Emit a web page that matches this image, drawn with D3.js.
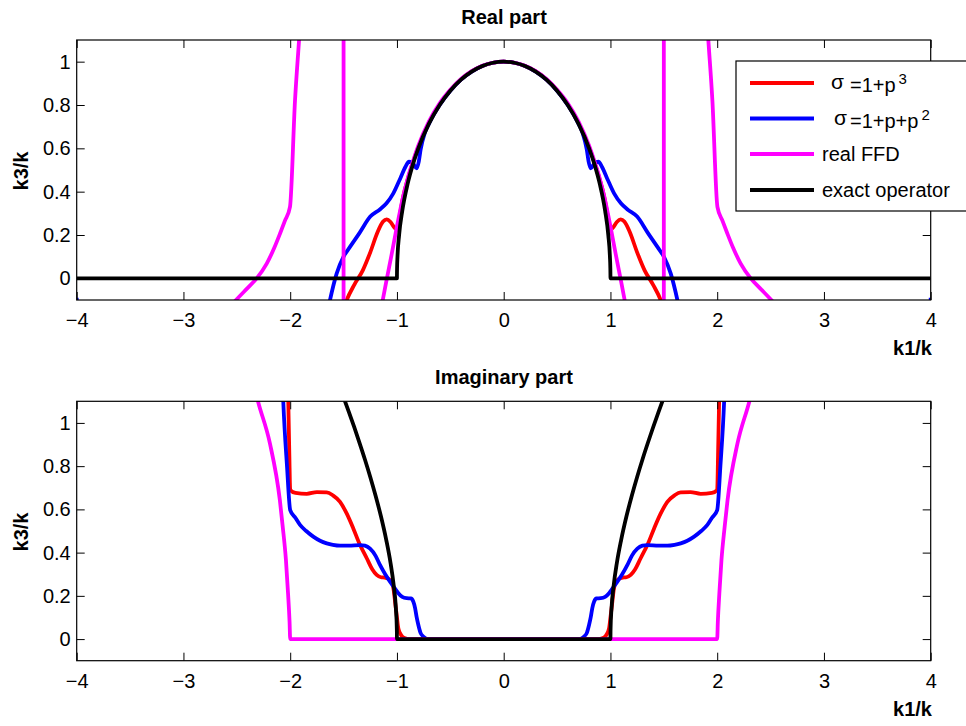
<!DOCTYPE html>
<html>
<head>
<meta charset="utf-8">
<title>Real and imaginary part</title>
<script src="https://cdn.jsdelivr.net/npm/d3@7"></script>
<style>
  body { margin: 0; background: #fff; }
  text { font-family: "Liberation Sans", Arial, Helvetica, sans-serif; fill: #000; }
  .title, .alabel { font-size: 20px; font-weight: bold; }
  .legtext { font-size: 20px; }
</style>
</head>
<body>
<script>
// tick values for both panels
var xTicks = [-4, -3, -2, -1, 0, 1, 2, 3, 4];
var yTicks = [0, 0.2, 0.4, 0.6, 0.8, 1];

// legend names (same order as the series are drawn)
var seriesNames = ["sigma3", "sigma2", "real FFD", "exact operator"];
var seriesColors = ["#ff0000", "#0000ff", "#ff00ff", "#000000"];

// ---- Real part, points as [k1/k, k3/k] ----
var realSigma3 = [
  [-1.62,-0.4],[-1.47,-0.1],[-1.40,-0.03],[-1.32,0.037],[-1.25,0.12],[-1.18,0.215],[-1.13,0.262],
  [-1.096,0.272],[-1.06,0.26],[-1.02,0.232],[-0.995,0.225],[-0.97,0.3],[-0.94,0.38],[-0.9,0.455],
  [-0.85,0.535],[-0.8,0.605],[-0.7,0.718],[-0.6,0.802],[-0.5,0.868],[-0.4,0.918],[-0.3,0.955],
  [-0.2,0.98],[-0.1,0.995],[0,1],
  [0.1,0.995],[0.2,0.98],[0.3,0.955],[0.4,0.918],[0.5,0.868],[0.6,0.802],[0.7,0.718],[0.8,0.605],
  [0.85,0.535],[0.9,0.455],[0.94,0.38],[0.97,0.3],[0.995,0.225],[1.02,0.232],[1.06,0.26],
  [1.096,0.272],[1.13,0.262],[1.18,0.215],[1.25,0.12],[1.32,0.037],[1.40,-0.03],[1.47,-0.1],[1.62,-0.4]
];
var realSigma2 = [
  [-4.0,-0.09],[-3.97,-0.5],[-1.75,-0.45],[-1.627,-0.1],[-1.565,0.022],[-1.5,0.1],[-1.44,0.145],
  [-1.35,0.21],[-1.25,0.285],[-1.16,0.318],[-1.1,0.345],[-1.034,0.392],[-0.97,0.46],[-0.92,0.515],
  [-0.887,0.538],[-0.85,0.53],[-0.815,0.508],[-0.795,0.54],[-0.778,0.595],[-0.74,0.67],[-0.7,0.714],
  [-0.6,0.8],[-0.5,0.866],[-0.4,0.917],[-0.3,0.954],[-0.2,0.98],[-0.1,0.995],[0,1],
  [0.1,0.995],[0.2,0.98],[0.3,0.954],[0.4,0.917],[0.5,0.866],[0.6,0.8],[0.7,0.714],[0.74,0.67],
  [0.778,0.595],[0.795,0.54],[0.815,0.508],[0.85,0.53],[0.887,0.538],[0.92,0.515],[0.97,0.46],
  [1.034,0.392],[1.1,0.345],[1.16,0.318],[1.25,0.285],[1.35,0.21],[1.44,0.145],[1.5,0.1],
  [1.565,0.022],[1.627,-0.1],[1.75,-0.45],[3.97,-0.5],[4.0,-0.09]
];
var realFFD = [
  [-2.7,-0.22],[-2.507,-0.1],[-2.4,-0.045],[-2.314,0.0],[-2.22,0.068],[-2.15,0.14],[-2.095,0.207],
  [-2.05,0.265],[-2.002,0.33],[-1.955,0.82],[-1.917,1.1],[-1.85,1.6],[-1.5001,8],[-1.4999,-8],
  [-1.3,-1.2],[-1.2,-0.29],[-1.133,-0.1],[-1.094,0.0],[-1.05,0.11],[-1.0,0.24],[-0.95,0.36],
  [-0.9,0.46],[-0.85,0.54],[-0.8,0.612],[-0.7,0.725],[-0.6,0.808],[-0.5,0.87],[-0.4,0.92],
  [-0.3,0.956],[-0.2,0.981],[-0.1,0.995],[0,1],
  [0.1,0.995],[0.2,0.981],[0.3,0.956],[0.4,0.92],[0.5,0.87],[0.6,0.808],[0.7,0.725],[0.8,0.612],
  [0.85,0.54],[0.9,0.46],[0.95,0.36],[1.0,0.24],[1.05,0.11],[1.094,0.0],[1.133,-0.1],[1.2,-0.29],
  [1.3,-1.2],[1.4999,-8],[1.5001,8],[1.85,1.6],[1.917,1.1],[1.955,0.82],[2.002,0.33],[2.05,0.265],
  [2.095,0.207],[2.15,0.14],[2.22,0.068],[2.314,0.0],[2.4,-0.045],[2.507,-0.1],[2.7,-0.22]
];
var realExact = [
  [-4,0],[-1.0,0],[-0.9999,0.0141],[-0.999,0.0447],[-0.995,0.0999],[-0.98,0.199],[-0.95,0.312],
  [-0.9,0.436],[-0.85,0.527],[-0.8,0.6],[-0.7,0.714],[-0.6,0.8],[-0.5,0.866],[-0.4,0.917],
  [-0.3,0.954],[-0.2,0.98],[-0.1,0.995],[0,1],
  [0.1,0.995],[0.2,0.98],[0.3,0.954],[0.4,0.917],[0.5,0.866],[0.6,0.8],[0.7,0.714],[0.8,0.6],
  [0.85,0.527],[0.9,0.436],[0.95,0.312],[0.98,0.199],[0.995,0.0999],[0.999,0.0447],[0.9999,0.0141],
  [1.0,0],[4,0]
];

// ---- Imaginary part ----
var imagSigma3 = [
  [-2.03,1.3],[-2.018,1.1],[-2.008,0.85],[-2.0,0.69],[-1.95,0.676],[-1.845,0.672],[-1.75,0.68],
  [-1.658,0.679],[-1.6,0.665],[-1.533,0.635],[-1.47,0.58],[-1.409,0.512],[-1.35,0.44],[-1.283,0.374],
  [-1.23,0.322],[-1.19,0.297],[-1.15,0.286],[-1.112,0.284],[-1.08,0.279],[-1.05,0.264],[-1.03,0.225],
  [-1.018,0.174],[-1.0,0.1],[-0.987,0.05],[-0.96,0.018],[-0.93,0.005],[-0.88,0],
  [0.88,0],[0.93,0.005],[0.96,0.018],[0.987,0.05],[1.0,0.1],[1.018,0.174],[1.03,0.225],[1.05,0.264],
  [1.08,0.279],[1.112,0.284],[1.15,0.286],[1.19,0.297],[1.23,0.322],[1.283,0.374],[1.35,0.44],
  [1.409,0.512],[1.47,0.58],[1.533,0.635],[1.6,0.665],[1.658,0.679],[1.75,0.68],[1.845,0.672],
  [1.95,0.676],[2.0,0.69],[2.008,0.85],[2.018,1.1],[2.03,1.3]
];
var imagSigma2 = [
  [-2.08,1.3],[-2.065,1.1],[-2.03,0.8],[-2.0,0.597],[-1.95,0.56],[-1.908,0.528],[-1.85,0.5],
  [-1.784,0.474],[-1.72,0.455],[-1.658,0.443],[-1.6,0.436],[-1.533,0.432],[-1.45,0.432],
  [-1.346,0.435],[-1.3,0.432],[-1.252,0.418],[-1.2,0.385],[-1.159,0.343],[-1.11,0.3],[-1.065,0.266],
  [-1.02,0.235],[-0.987,0.212],[-0.95,0.195],[-0.909,0.189],[-0.87,0.188],[-0.848,0.175],[-0.83,0.143],
  [-0.815,0.1],[-0.8,0.066],[-0.78,0.03],[-0.753,0.012],[-0.706,0],
  [0.706,0],[0.753,0.012],[0.78,0.03],[0.8,0.066],[0.815,0.1],[0.83,0.143],[0.848,0.175],[0.87,0.188],
  [0.909,0.189],[0.95,0.195],[0.987,0.212],[1.02,0.235],[1.065,0.266],[1.11,0.3],[1.159,0.343],
  [1.2,0.385],[1.252,0.418],[1.3,0.432],[1.346,0.435],[1.45,0.432],[1.533,0.432],[1.6,0.436],
  [1.658,0.443],[1.72,0.455],[1.784,0.474],[1.85,0.5],[1.908,0.528],[1.95,0.56],[2.0,0.597],
  [2.03,0.8],[2.065,1.1],[2.08,1.3]
];
var imagFFD = [
  [-2.4,1.3],[-2.3,1.097],[-2.19,0.905],[-2.097,0.643],[-2.07,0.52],[-2.04,0.366],[-2.02,0.21],
  [-2.006,0.08],[-2.0,0],
  [2.0,0],[2.006,0.08],[2.02,0.21],[2.04,0.366],[2.07,0.52],[2.097,0.643],[2.19,0.905],[2.3,1.097],[2.4,1.3]
];
var imagExact = [
  [-1.55,1.184],[-1.5,1.118],[-1.45,1.05],[-1.4,0.98],[-1.35,0.907],[-1.3,0.831],[-1.25,0.75],
  [-1.2,0.663],[-1.15,0.568],[-1.1,0.458],[-1.06,0.352],[-1.03,0.247],[-1.01,0.142],[-1.001,0.045],[-1.0,0],
  [1.0,0],[1.001,0.045],[1.01,0.142],[1.03,0.247],[1.06,0.352],[1.1,0.458],[1.15,0.568],[1.2,0.663],
  [1.25,0.75],[1.3,0.831],[1.35,0.907],[1.4,0.98],[1.45,1.05],[1.5,1.118],[1.55,1.184]
];

window.onload = function(){
  var w = 966, h = 726;
  var svg = d3.select("body").append("svg")
      .attr("width", w)
      .attr("height", h);

  // shared horizontal scale
  var x = d3.scaleLinear().domain([-4, 4]).range([76.7, 930.7]);

  var panels = [
    { title: "Real part", top: 40, bottom: 300, titleY: 24, series: [realSigma3, realSigma2, realFFD, realExact] },
    { title: "Imaginary part", top: 401.3, bottom: 660.7, titleY: 384, series: [imagSigma3, imagSigma2, imagFFD, imagExact] }
  ];

  panels.forEach(function(p, pi){
    var y = d3.scaleLinear().domain([-0.1, 1.1]).range([p.bottom, p.top]);
    var g = svg.append("g");

    // clip so curves stay inside the box
    svg.append("clipPath").attr("id", "clip" + pi)
      .append("rect")
        .attr("x", x.range()[0]).attr("y", p.top)
        .attr("width", x.range()[1] - x.range()[0])
        .attr("height", p.bottom - p.top);

    var line = d3.line()
        .x(function(d){ return x(d[0]); })
        .y(function(d){ return y(d[1]); })
        .curve(d3.curveMonotoneX);

    g.append("g").attr("clip-path", "url(#clip" + pi + ")")
      .selectAll("path")
      .data(p.series)
      .enter()
      .append("path")
        .attr("d", line)
        .attr("fill", "none")
        .attr("stroke", function(d, i){ return seriesColors[i]; })
        .attr("stroke-width", 3.8)
        .attr("stroke-linejoin", "round");

    // inward ticks on all four sides (matlab box style)
    g.append("g")
      .attr("transform", "translate(0," + p.bottom + ")")
      .call(d3.axisBottom(x).tickValues(xTicks).tickSize(-8).tickSizeOuter(0).tickPadding(13));
    g.append("g")
      .attr("transform", "translate(0," + p.top + ")")
      .call(d3.axisTop(x).tickValues(xTicks).tickSize(-8).tickSizeOuter(0).tickFormat(""));
    g.append("g")
      .attr("transform", "translate(" + x.range()[0] + ",0)")
      .call(d3.axisLeft(y).tickValues(yTicks).tickSize(-8).tickSizeOuter(0).tickPadding(6)
        .tickFormat(function(d){ return d3.format("~g")(d); }));
    g.append("g")
      .attr("transform", "translate(" + x.range()[1] + ",0)")
      .call(d3.axisRight(y).tickValues(yTicks).tickSize(-8).tickSizeOuter(0).tickFormat(""));

    g.selectAll(".domain").remove();
    g.selectAll(".tick line").attr("stroke", "#000").attr("stroke-width", 1);
    g.selectAll(".tick text")
      .style("font-family", "'Liberation Sans', Arial, Helvetica, sans-serif")
      .style("font-size", "20px");

    // box
    g.append("rect")
      .attr("x", x.range()[0]).attr("y", p.top)
      .attr("width", x.range()[1] - x.range()[0])
      .attr("height", p.bottom - p.top)
      .attr("fill", "none")
      .attr("stroke", "#000")
      .attr("stroke-width", 1.2);

    // title and axis labels
    g.append("text").attr("class", "title")
      .attr("x", 504).attr("y", p.titleY)
      .attr("text-anchor", "middle")
      .text(p.title);
    g.append("text").attr("class", "alabel")
      .attr("text-anchor", "middle")
      .attr("transform", "translate(28," + ((p.top + p.bottom) / 2 + 1) + ") rotate(-90)")
      .text("k3/k");
    g.append("text").attr("class", "alabel")
      .attr("text-anchor", "end")
      .attr("x", 932).attr("y", p.bottom + 55)
      .text("k1/k");
  });

  // legend in the top panel
  var leg = svg.append("g");
  leg.append("rect")
    .attr("x", 736).attr("y", 61)
    .attr("width", 240).attr("height", 150)
    .attr("fill", "#fff")
    .attr("stroke", "#000")
    .attr("stroke-width", 1.2);

  var rowY = [83, 118.5, 154, 190];
  leg.selectAll(".legline")
    .data(seriesNames)
    .enter()
    .append("line")
      .attr("x1", 750).attr("x2", 814)
      .attr("y1", function(d, i){ return rowY[i]; })
      .attr("y2", function(d, i){ return rowY[i]; })
      .attr("stroke", function(d, i){ return seriesColors[i]; })
      .attr("stroke-width", 3.8);

  // sigma entries, written as tex would place them
  var sig = [
    { sx: 831, eq: "=1+p", sup: "3" },
    { sx: 834, eq: "=1+p+p", sup: "2" }
  ];
  sig.forEach(function(s, i){
    var b = rowY[i];
    leg.append("text").attr("class", "legtext").attr("x", s.sx).attr("y", b + 6)
      .style("font-size", "21px").text("\u03c3");
    var t = leg.append("text").attr("class", "legtext").attr("x", 850).attr("y", b + 9).text(s.eq);
    t.append("tspan").attr("dx", 3).attr("dy", -8).style("font-size", "15px").text(s.sup);
  });
  leg.selectAll(".plain")
    .data(seriesNames.slice(2))
    .enter()
    .append("text")
      .attr("class", "legtext")
      .attr("x", 822)
      .attr("y", function(d, i){ return rowY[i + 2] + 7; })
      .text(function(d){ return d; });
};
</script>
</body>
</html>
